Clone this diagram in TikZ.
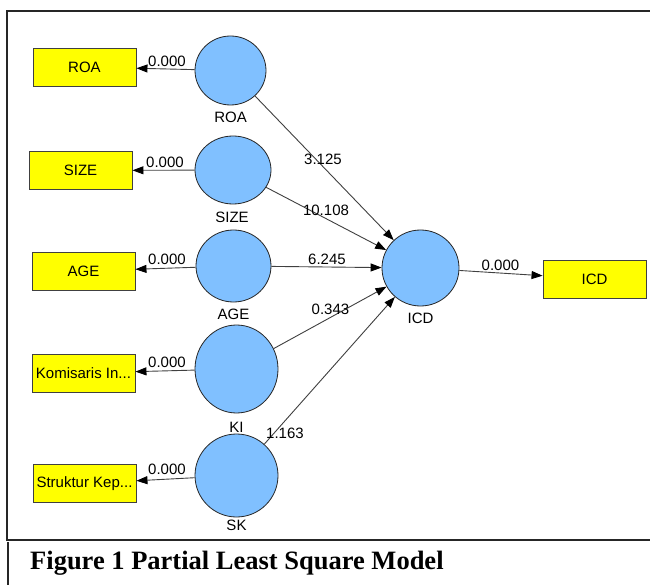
\documentclass[tikz,border=0pt]{standalone}
\usepackage{fontspec}
\setmainfont{Liberation Serif}
\newfontfamily\diagfont{Liberation Sans}
\usetikzlibrary{shapes.geometric,arrows.meta}
\definecolor{lvblue}{RGB}{128,192,255}
\definecolor{indyellow}{RGB}{255,255,0}
\tikzset{
  latent/.style={ellipse, draw=black!85, line width=0.8pt, fill=lvblue, inner sep=0pt},
  ind/.style={rectangle, draw=black!75, line width=0.9pt, fill=indyellow, minimum width=103pt, minimum height=38pt, inner sep=0pt, font=\diagfont\fontsize{15}{17}\selectfont},
  arr/.style={draw=black!75, line width=0.9pt, -{Triangle[length=11pt,width=8pt,color=black,fill=black]}},
  lbl/.style={inner sep=0pt, font=\diagfont\fontsize{15}{17}\selectfont},
}
\begin{document}
\begin{tikzpicture}[x=1pt,y=-1pt]
\useasboundingbox (0,0) rectangle (650,585);
\fill[white] (0,0) rectangle (650,585);
% frame
\draw[line width=1.3pt, black!85] (650,11) -- (7,11) -- (7,540) -- (650,540);
\draw[line width=1.6pt, black!85] (8,542) -- (8,585);
% latent variables
\node[latent, minimum width=71pt, minimum height=69pt] (roa) at (230.5,70.5) {};
\node[latent, minimum width=76pt, minimum height=68pt] (size) at (233,170) {};
\node[latent, minimum width=75pt, minimum height=72pt] (age) at (233.5,266) {};
\node[latent, minimum width=83pt, minimum height=88pt] (ki) at (236.5,369) {};
\node[latent, minimum width=83pt, minimum height=83pt] (sk) at (236.5,475.5) {};
\node[latent, minimum width=77pt, minimum height=76pt] (icd) at (420.5,268) {};
% latent names
\node[lbl] (nroa) at (230.5,117) {ROA};
\node[lbl] (nsize) at (232,217) {SIZE};
\node[lbl] (nage) at (233.5,314) {AGE};
\node[lbl] (nki) at (236.5,427) {KI};
\node[lbl] (nsk) at (236.5,525) {SK};
\node[lbl] (nicd) at (420.5,318) {ICD};
% indicators
\node[ind] (broa) at (84.5,67) {ROA};
\node[ind] (bsize) at (80.5,170.5) {SIZE};
\node[ind] (bage) at (83.5,271) {AGE};
\node[ind] (bki) at (83.5,373) {Komisaris In...};
\node[ind] (bsk) at (84.5,483.5) {Struktur Kep...};
\node[ind] (bicd) at (594.5,279) {ICD};
% outer arrows
\draw[arr] (roa) -- (broa);
\draw[arr] (size) -- (bsize);
\draw[arr] (age) -- (bage);
\draw[arr] (ki) -- (bki);
\draw[arr] (sk) -- (bsk);
\draw[arr] (icd) -- (bicd);
% structural arrows
\draw[arr] (roa) -- (icd);
\draw[arr] (size) -- (icd);
\draw[arr] (age) -- (icd);
\draw[arr] (ki) -- (icd);
\draw[arr] (sk) -- (icd);
% labels
\node[lbl] (w1) at (167,61.5) {0.000};
\node[lbl] (w2) at (165,162) {0.000};
\node[lbl] (w3) at (167,259) {0.000};
\node[lbl] (w4) at (167,362) {0.000};
\node[lbl] (w5) at (167,469) {0.000};
\node[lbl] (w6) at (500.5,265) {0.000};
\node[lbl] (p1) at (323,159) {3.125};
\node[lbl] (p2) at (326,210) {10.108};
\node[lbl] (p3) at (327,259) {6.245};
\node[lbl] (p4) at (330.5,309) {0.343};
\node[lbl] (p5) at (285,433) {1.163};
% caption
\node[anchor=base west, inner sep=0pt, font=\bfseries\fontsize{26.5}{30}\selectfont] (cap) at (30,569) {Figure 1 Partial Least Square Model};
\end{tikzpicture}
\end{document}
